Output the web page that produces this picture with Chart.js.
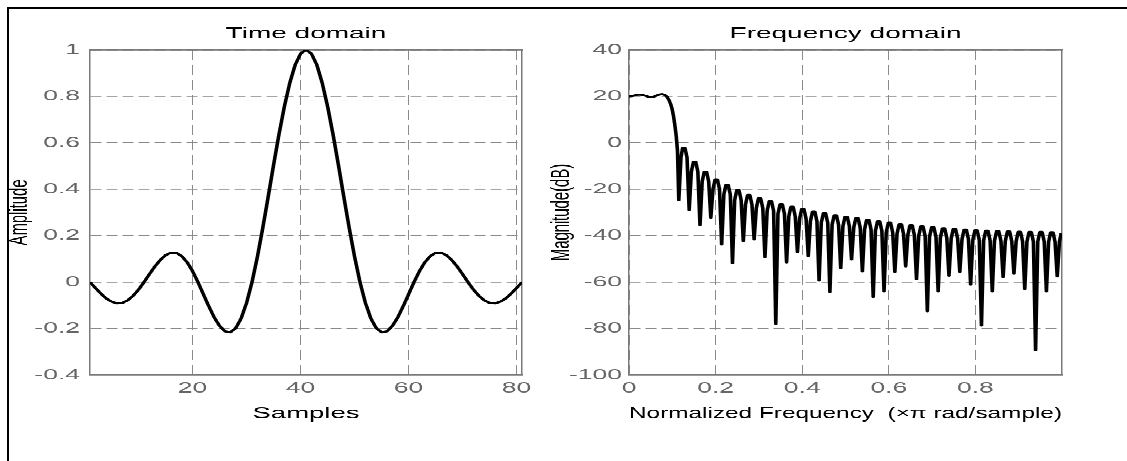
<!DOCTYPE html>
<html>
<head>
<meta charset="utf-8">
<script src="https://cdn.jsdelivr.net/npm/chart.js@4.4.0/dist/chart.umd.min.js"></script>
<style>
  html, body { margin: 0; padding: 0; background: #fff; overflow: hidden; }
  body { width: 1127px; height: 461px; position: relative; }
  #frame { position: absolute; left: 7px; top: 7px; width: 1300px; height: 600px;
           border-left: 2px solid #000; border-top: 2px solid #000; }
  /* the figure text looks squashed vertically, so draw tall and squash */
  #squash { position: absolute; left: 0; top: 0; width: 1127px; height: 808px;
            transform: scaleY(0.5705); transform-origin: 0 0; }
  #squash canvas { position: absolute; top: 0; }
</style>
</head>
<body>
<div id="frame"></div>
<div id="squash">
  <canvas id="timeChart" width="540" height="808" style="left:0px"></canvas>
  <canvas id="freqChart" width="587" height="808" style="left:540px"></canvas>
</div>
<script>
// time domain
var samples = [1,2,3,4,5,6,7,8,9,10,11,12,13,14,15,16,17,18,19,20,
  21,22,23,24,25,26,27,28,29,30,31,32,33,34,35,36,37,38,39,40,41,
  42,43,44,45,46,47,48,49,50,51,52,53,54,55,56,57,58,59,60,61,
  62,63,64,65,66,67,68,69,70,71,72,73,74,75,76,77,78,79,80,81];
var amplitude = [0, -0.025, -0.049, -0.070, -0.084, -0.091, -0.089, -0.078, -0.058, -0.032,
  0, 0.034, 0.067, 0.095, 0.116, 0.127, 0.126, 0.112, 0.085, 0.047,
  0, -0.052, -0.104, -0.152, -0.189, -0.212, -0.216, -0.198, -0.156, -0.089,
  0, 0.109, 0.234, 0.368, 0.505, 0.637, 0.757, 0.858, 0.936, 0.984,
  1,
  0.984, 0.936, 0.858, 0.757, 0.637, 0.505, 0.368, 0.234, 0.109, 0,
  -0.089, -0.156, -0.198, -0.216, -0.212, -0.189, -0.152, -0.104, -0.052, 0,
  0.047, 0.085, 0.112, 0.126, 0.127, 0.116, 0.095, 0.067, 0.034, 0,
  -0.032, -0.058, -0.078, -0.089, -0.091, -0.084, -0.070, -0.049, -0.025, 0];

// frequency domain (x pi rad/sample, dB)
var normFreq = [0, 0.006, 0.012, 0.018, 0.025, 0.032, 0.038, 0.044, 0.050, 0.056, 0.063,
  0.069, 0.076, 0.082, 0.088, 0.093, 0.097, 0.100, 0.103, 0.106, 0.109, 0.112,
  0.115, 0.120, 0.124, 0.129, 0.134,
  0.139, 0.144, 0.149, 0.154, 0.159,
  0.164, 0.169, 0.174, 0.179, 0.184,
  0.189, 0.194, 0.199, 0.204, 0.209,
  0.214, 0.219, 0.224, 0.229, 0.234,
  0.239, 0.244, 0.249, 0.254, 0.259,
  0.264, 0.269, 0.274, 0.279, 0.284,
  0.289, 0.294, 0.299, 0.304, 0.309,
  0.314, 0.319, 0.324, 0.329, 0.334,
  0.339, 0.344, 0.349, 0.354, 0.359,
  0.364, 0.369, 0.374, 0.379, 0.384,
  0.389, 0.394, 0.399, 0.404, 0.409,
  0.414, 0.419, 0.424, 0.429, 0.434,
  0.439, 0.444, 0.449, 0.454, 0.459,
  0.464, 0.469, 0.474, 0.479, 0.484,
  0.489, 0.494, 0.499, 0.504, 0.509,
  0.514, 0.519, 0.524, 0.529, 0.534,
  0.539, 0.544, 0.549, 0.554, 0.559,
  0.564, 0.569, 0.574, 0.579, 0.584,
  0.589, 0.594, 0.599, 0.604, 0.609,
  0.614, 0.619, 0.624, 0.629, 0.634,
  0.639, 0.644, 0.649, 0.654, 0.659,
  0.664, 0.669, 0.674, 0.679, 0.684,
  0.689, 0.694, 0.699, 0.704, 0.709,
  0.714, 0.719, 0.724, 0.729, 0.734,
  0.739, 0.744, 0.749, 0.754, 0.759,
  0.764, 0.769, 0.774, 0.779, 0.784,
  0.789, 0.794, 0.799, 0.804, 0.809,
  0.814, 0.819, 0.824, 0.829, 0.834,
  0.839, 0.844, 0.849, 0.854, 0.859,
  0.864, 0.869, 0.874, 0.879, 0.884,
  0.889, 0.894, 0.899, 0.904, 0.909,
  0.914, 0.919, 0.924, 0.929, 0.934,
  0.939, 0.944, 0.949, 0.954, 0.959,
  0.964, 0.969, 0.974, 0.979, 0.984,
  0.989, 0.994, 0.998];
var magnitudeDb = [20.0, 20.1, 20.4, 20.7, 20.8, 20.6, 20.3, 19.9, 19.7, 19.8, 20.3,
  20.8, 21.0, 20.7, 19.8, 18.2, 16.3, 14.2, 11.3, 7.5, 3.0, -3.5,
  -24.8, -6.3, -2.1, -2.1, -6.3,
  -28.9, -12.4, -8.2, -8.2, -12.4,
  -35.6, -16.6, -12.4, -12.4, -16.6,
  -32.2, -19.9, -15.7, -15.7, -19.9,
  -43.8, -22.3, -18.1, -18.1, -22.3,
  -51.8, -24.6, -20.4, -20.4, -24.6,
  -42.4, -26.6, -22.4, -22.4, -26.6,
  -41.6, -28.1, -23.9, -23.9, -28.1,
  -49.3, -29.3, -25.1, -25.1, -29.3,
  -78.0, -30.6, -26.4, -26.4, -30.6,
  -51.5, -31.7, -27.5, -27.5, -31.7,
  -47.1, -32.7, -28.5, -28.5, -32.7,
  -48.8, -33.7, -29.5, -29.5, -33.7,
  -59.3, -34.5, -30.3, -30.3, -34.5,
  -64.3, -35.3, -31.1, -31.1, -35.3,
  -54.0, -36.0, -31.8, -31.8, -36.0,
  -50.2, -36.6, -32.4, -32.4, -36.6,
  -55.4, -37.3, -33.1, -33.1, -37.3,
  -66.4, -38.0, -33.8, -33.8, -38.0,
  -64.0, -38.6, -34.4, -34.4, -38.6,
  -55.6, -39.2, -35.0, -35.0, -39.2,
  -53.2, -39.7, -35.5, -35.5, -39.7,
  -58.7, -40.2, -36.0, -36.0, -40.2,
  -72.6, -40.6, -36.4, -36.4, -40.6,
  -64.0, -41.0, -36.8, -36.8, -41.0,
  -57.2, -41.3, -37.1, -37.1, -41.3,
  -55.6, -41.6, -37.4, -37.4, -41.6,
  -61.1, -41.9, -37.7, -37.7, -41.9,
  -78.7, -42.1, -37.9, -37.9, -42.1,
  -64.0, -42.3, -38.1, -38.1, -42.3,
  -57.8, -42.4, -38.2, -38.2, -42.4,
  -56.4, -42.5, -38.3, -38.3, -42.5,
  -63.0, -42.6, -38.4, -38.4, -42.6,
  -89.4, -42.6, -38.4, -38.4, -42.6,
  -64.0, -42.7, -38.5, -38.5, -42.7,
  -57.5, -42.7, -39.0];

// ticks
var sampleTicks = [20, 40, 60, 80];
var sampleTickLabels = ['20', '40', '60', '80'];
var ampTicks = [-0.4, -0.2, 0, 0.2, 0.4, 0.6, 0.8, 1];
var ampTickLabels = ['-0.4', '-0.2', '0', '0.2', '0.4', '0.6', '0.8', '1'];
var freqTicks = [0, 0.2, 0.4, 0.6, 0.8];
var freqTickLabels = ['0', '0.2', '0.4', '0.6', '0.8'];
var dbTicks = [-100, -80, -60, -40, -20, 0, 20, 40];
var dbTickLabels = ['-100', '-80', '-60', '-40', '-20', '0', '20', '40'];

var FONT = 'Liberation Sans, Arial, sans-serif';
var SQ = 0.5705;            // vertical squash of the page
var GRID = '#8a8a8a';
var FRAME = '#7a7a7a';
var TICKCOL = '#666';

function toPoints(xs, ys) {
  var pts = [];
  for (var i = 0; i < xs.length; i++) pts.push({ x: xs[i], y: ys[i] });
  return pts;
}

function fixedTicks(values) {
  return function (scale) {
    scale.ticks = values.map(function (v) { return { value: v }; });
  };
}

function makePanel(id, p) {
  return new Chart(document.getElementById(id), {
    type: 'line',
    data: {
      datasets: [{
        data: p.points,
        borderColor: '#000',
        borderWidth: 3.6,
        borderJoinStyle: 'round',
        pointRadius: 0,
        tension: 0,
        fill: false
      }]
    },
    options: {
      responsive: false,
      animation: false,
      devicePixelRatio: 1,
      layout: { padding: { left: 0, right: p.padRight, top: 0, bottom: 0 } },
      plugins: {
        legend: { display: false },
        tooltip: { enabled: false },
        title: {
          display: true,
          text: p.title,
          fullSize: false,
          color: '#000',
          font: { family: FONT, size: 28, weight: 'normal' },
          padding: { top: 42, bottom: 12 }
        }
      },
      scales: {
        x: {
          type: 'linear',
          min: p.xMin, max: p.xMax,
          afterBuildTicks: fixedTicks(p.xTicks),
          afterFit: function (s) { s.height = 150.7; },
          grid: { color: GRID, lineWidth: 1, drawTicks: false },
          border: { color: FRAME, width: 1.5 / SQ, dash: [10 / SQ, 5 / SQ] },
          ticks: {
            color: TICKCOL, padding: 7, maxRotation: 0, autoSkip: false,
            font: { family: FONT, size: 26.5 },
            callback: function (v, i) { return p.xLabels[i]; }
          },
          title: {
            display: true, text: p.xTitle, color: '#000',
            font: { family: FONT, size: 27.5 },
            padding: { top: 0, bottom: 66.5 }
          }
        },
        y: {
          type: 'linear',
          min: p.yMin, max: p.yMax,
          afterBuildTicks: fixedTicks(p.yTicks),
          afterFit: function (s) { s.width = p.yWidth; },
          grid: { color: GRID, lineWidth: 1 / SQ, drawTicks: false },
          border: { color: FRAME, width: 1.5, dash: [11, 5] },
          ticks: {
            color: TICKCOL, padding: p.yTickPad, autoSkip: false,
            font: { family: FONT, size: 26.5 },
            callback: function (v, i) { return p.yLabels[i]; }
          },
          title: {
            display: true, text: p.yTitle, color: '#000',
            font: { family: FONT, size: 26 },
            padding: { top: p.yTitlePad, bottom: 0 }
          }
        },
        // top and right edges of the box
        x2: {
          type: 'linear', position: 'top', min: 0, max: 1,
          afterFit: function (s) { s.height = 0; },
          grid: { display: false, drawTicks: false },
          ticks: { display: false },
          border: { display: true, color: FRAME, width: 1.5 / SQ }
        },
        y2: {
          type: 'linear', position: 'right', min: 0, max: 1,
          afterFit: function (s) { s.width = 0; },
          grid: { display: false, drawTicks: false },
          ticks: { display: false },
          border: { display: true, color: FRAME, width: 1.5 }
        }
      }
    }
  });
}

makePanel('timeChart', {
  title: 'Time domain',
  points: toPoints(samples, amplitude),
  xMin: 1, xMax: 81, xTicks: sampleTicks, xLabels: sampleTickLabels, xTitle: 'Samples',
  yMin: -0.4, yMax: 1, yTicks: ampTicks, yLabels: ampTickLabels, yTitle: 'Amplitude',
  yWidth: 90, yTickPad: 10, yTitlePad: 4.4, padRight: 18
});

makePanel('freqChart', {
  title: 'Frequency domain',
  points: toPoints(normFreq, magnitudeDb),
  xMin: 0, xMax: 1, xTicks: freqTicks, xLabels: freqTickLabels,
  xTitle: 'Normalized Frequency  (\u00d7\u03c0 rad/sample)',
  yMin: -100, yMax: 40, yTicks: dbTicks, yLabels: dbTickLabels, yTitle: 'Magnitude(dB)',
  yWidth: 89, yTickPad: 7, yTitlePad: 5.9, padRight: 65
});
</script>
</body>
</html>
